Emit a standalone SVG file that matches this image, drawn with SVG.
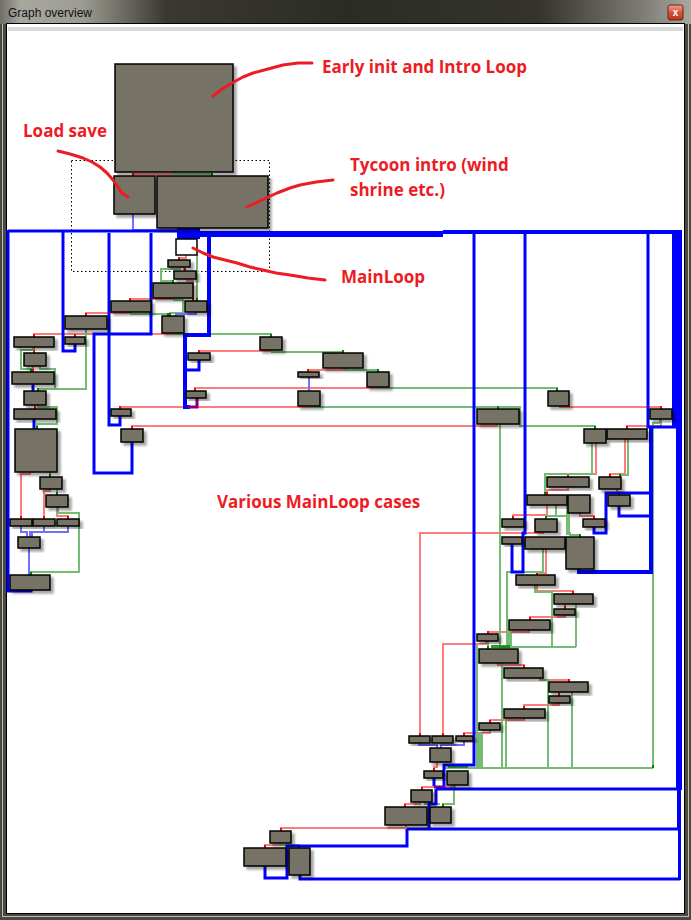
<svg xmlns="http://www.w3.org/2000/svg" width="691" height="920" viewBox="0 0 691 920">
<defs>
<linearGradient id="tb" x1="0" y1="0" x2="1" y2="0">
<stop offset="0" stop-color="#6f6e66"/><stop offset="0.03" stop-color="#a9a8a0"/><stop offset="0.12" stop-color="#9c9b92"/><stop offset="0.24" stop-color="#393931"/><stop offset="0.5" stop-color="#2c2c26"/><stop offset="0.78" stop-color="#34342d"/><stop offset="0.93" stop-color="#7d7d75"/><stop offset="1" stop-color="#a8a8a0"/>
</linearGradient>
<linearGradient id="cb" x1="0" y1="0" x2="0" y2="1"><stop offset="0" stop-color="#f0a090"/><stop offset="0.5" stop-color="#d9533c"/><stop offset="1" stop-color="#b8321e"/></linearGradient>
<filter id="sh" x="-20%" y="-20%" width="150%" height="160%"><feDropShadow dx="3" dy="3" stdDeviation="1" flood-color="#000" flood-opacity="0.35"/></filter>
<marker id="mr" viewBox="0 0 2 3" refX="1" refY="3" markerWidth="2" markerHeight="3" markerUnits="userSpaceOnUse" orient="0"><rect width="2" height="3" fill="#ff0000"/></marker>
<marker id="mg" viewBox="0 0 2 3" refX="1" refY="3" markerWidth="2" markerHeight="3" markerUnits="userSpaceOnUse" orient="0"><rect width="2" height="3" fill="#008000"/></marker>
<style>
.n{fill:#777266;stroke:#000;stroke-width:1.5;filter:url(#sh)}
.w{fill:#fff;stroke:#000;stroke-width:1.5}
.r{fill:none;stroke:#ff7c7c;stroke-width:2;marker-end:url(#mr)}
.g{fill:none;stroke:#74bc74;stroke-width:2;marker-end:url(#mg)}
.gl{fill:none;stroke:#74bc74;stroke-width:2}
.b{fill:none;stroke:#0000ff;stroke-width:3}
.bt{fill:none;stroke:#0000ff;stroke-width:4}
.lb{fill:none;stroke:#7070ff;stroke-width:2}
.p{fill:none;stroke:#800080;stroke-width:3}
.pen{fill:none;stroke:#ed1c24;stroke-width:3;stroke-linecap:round;stroke-linejoin:round}
.ann{font-family:"Open Sans","Noto Sans",sans-serif;font-weight:bold;font-size:17px;fill:#ed1c24}
</style>
</defs>
<g id="frame">
<rect x="0" y="0" width="691" height="920" fill="#4a4840"/>
<rect x="0" y="0" width="691" height="24" fill="url(#tb)"/>
<text x="8" y="17" font-family="Liberation Sans,Arial,sans-serif" font-size="12" fill="#111">Graph overview</text>
<rect x="668" y="5" width="15" height="15" rx="2" fill="url(#cb)" stroke="#6b2418"/>
<text x="675.5" y="16" text-anchor="middle" font-family="Liberation Sans,Arial,sans-serif" font-size="10" font-weight="bold" fill="#fff">x</text>
<line x1="2.5" y1="24" x2="2.5" y2="917" stroke="#bdbdb5"/>
<line x1="688.5" y1="24" x2="688.5" y2="917" stroke="#bdbdb5"/>
<line x1="2" y1="916.5" x2="689" y2="916.5" stroke="#bdbdb5"/>
<rect x="6.5" y="23.5" width="678" height="890" fill="#fff" stroke="#000"/>
<rect x="8" y="27" width="675" height="4" fill="#d8d8d8"/>
</g>
<rect x="71.5" y="160.5" width="198" height="111" fill="none" stroke="#000" stroke-dasharray="1.5,2.5"/>
<g id="connectors">
<polyline class="r" points="173,172 173,174 133,174 133,176"/>
<polyline class="r" points="186,255 186,258 179,258 179,260"/>
<polyline class="r" points="184,267 184,269 185,269 185,271"/>
<polyline class="r" points="187,279 187,281 193,281 193,301"/>
<polyline class="r" points="172,298 172,299 130,299 130,301"/>
<polyline class="r" points="130,312 130,313 86,313 86,316"/>
<polyline class="r" points="172,333 172,334 34,334 34,337"/>
<polyline class="r" points="75,334 75,337"/>
<polyline class="r" points="34,347 34,353"/>
<polyline class="r" points="33,366 33,372"/>
<polyline class="r" points="35,405 35,409"/>
<polyline class="r" points="30,472 30,474 21,474 21,519"/>
<polyline class="r" points="50,489 50,491 44,491 44,519"/>
<polyline class="r" points="57,507 57,516 68,516 68,519"/>
<polyline class="r" points="270,350 270,351 199,351 199,353"/>
<polyline class="r" points="343,368 343,370 308,370 308,372"/>
<polyline class="r" points="378,387 378,388 195,388 195,391"/>
<polyline class="r" points="308,406 308,407 120,407 120,409"/>
<polyline class="r" points="497,423 497,426 132,426 132,429"/>
<polyline class="r" points="560,406 560,407 661,407 661,409"/>
<polyline class="r" points="661,419 661,426 627,426 627,429"/>
<polyline class="r" points="596,443 596,474 568,474 568,477"/>
<polyline class="r" points="625,439 625,474 610,474 610,477"/>
<polyline class="r" points="568,487 568,490 547,490 547,495"/>
<polyline class="r" points="617,489 617,492 619,492 619,495"/>
<polyline class="r" points="547,505 547,515 513,515 513,519"/>
<polyline class="r" points="580,513 580,516 594,516 594,519"/>
<polyline class="r" points="543,532 543,533 420,533 420,736"/>
<polyline class="r" points="546,549 546,573 537,573 537,575"/>
<polyline class="r" points="537,585 537,591 573,591 573,594"/>
<polyline class="r" points="565,604 565,609"/>
<polyline class="r" points="565,615 565,617 530,617 530,620"/>
<polyline class="r" points="529,630 529,632 488,632 488,634"/>
<polyline class="r" points="486,641 486,644 443,644 443,736"/>
<polyline class="r" points="498,663 498,665 524,665 524,668"/>
<polyline class="r" points="540,678 540,680 569,680 569,682"/>
<polyline class="r" points="559,692 559,696"/>
<polyline class="r" points="559,703 559,705 524,705 524,709"/>
<polyline class="r" points="524,718 524,720 490,720 490,723"/>
<polyline class="r" points="490,730 490,733 464,733 464,736"/>
<polyline class="r" points="437,762 437,767 434,767 434,771"/>
<polyline class="r" points="455,785 455,787 422,787 422,790"/>
<polyline class="r" points="420,802 420,804 405,804 405,807"/>
<polyline class="r" points="406,825 406,828 281,828 281,831"/>
<polyline class="r" points="280,843 280,845 265,845 265,848"/>
<polyline class="g" points="174,172 174,174 212,174 212,176"/>
<polyline class="g" points="197,255 197,301"/>
<polyline class="g" points="180,267 180,269 161,269 161,281 173,281 173,283"/>
<polyline class="g" points="174,298 174,300 183,300 183,313 170,313 170,316"/>
<polyline class="g" points="131,312 131,314 168,314 168,316"/>
<polyline class="g" points="174,333 174,334 271,334 271,337"/>
<polyline class="g" points="86,329 86,389 38,389 38,391"/>
<polyline class="g" points="33,348 33,350 21,350 21,369 31,369 31,372"/>
<polyline class="gl" points="40,366 40,369 55,369 55,389"/>
<polyline class="g" points="38,405 38,407 57,407 57,424 37,424 37,429"/>
<polyline class="g" points="50,472 50,477"/>
<polyline class="g" points="57,489 57,495"/>
<polyline class="g" points="58,507 58,513 79,513 79,572 31,572 31,575"/>
<polyline class="g" points="272,350 272,352 343,352 343,353"/>
<polyline class="g" points="345,368 345,370 378,370 378,372"/>
<polyline class="g" points="380,387 380,388 557,388 557,391"/>
<polyline class="g" points="310,406 310,407 520,407 520,426 595,426 595,429"/>
<polyline class="g" points="498,407 498,409"/>
<polyline class="gl" points="500,424 500,647"/>
<polyline class="g" points="592,443 592,474 545,474 545,495"/>
<polyline class="g" points="628,439 628,475 620,475 620,477"/>
<polyline class="g" points="556,505 556,516 546,516 546,519"/>
<polyline class="gl" points="547,516 570,516"/>
<polyline class="g" points="570,532 570,535 580,535 580,537"/>
<polyline class="gl" points="543,549 543,572 507,572 507,647"/>
<polyline class="gl" points="535,585 535,592 552,592 552,647"/>
<polyline class="gl" points="576,604 576,647"/>
<polyline class="gl" points="499,647 576,647"/>
<polyline class="g" points="488,641 488,649"/>
<polyline class="gl" points="502,663 502,768"/>
<polyline class="gl" points="543,678 543,680 548,680 548,768"/>
<polyline class="gl" points="572,692 572,768"/>
<polyline class="gl" points="506,718 506,768"/>
<polyline class="gl" points="660,419 660,423 653,423 653,768"/>
<polyline class="gl" points="477,645 477,768"/>
<polyline class="gl" points="482,733 482,768"/>
<polyline class="g" points="444,768 653,768"/>
<polyline class="g" points="454,785 454,804 443,804 443,807"/>
<polyline class="gl" points="425,802 425,804 440,804"/>
<polyline class="g" points="281,843 281,845 299,845 299,848"/>
<rect x="476" y="733" width="6" height="35" fill="#74bc74"/>
<rect x="506" y="632" width="6" height="15" fill="#74bc74"/>
<rect x="566" y="505" width="4" height="30" fill="#74bc74"/>
<rect x="448" y="765" width="20" height="3" fill="#008000" fill-opacity="0.8"/>
<rect x="491" y="645" width="19" height="3" fill="#008000" fill-opacity="0.8"/>
<polyline class="lb" points="133,214 133,230 183,230"/>
<polyline class="lb" points="196,312 196,314 176,314 176,316"/>
<polyline class="lb" points="21,526 21,532 27,532 27,537"/>
<polyline class="lb" points="44,526 44,532 30,532 30,537"/>
<polyline class="lb" points="68,526 68,532 32,532 32,537"/>
<polyline class="lb" points="29,548 29,575"/>
<polyline class="lb" points="309,377 309,391"/>
<polyline class="lb" points="419,743 419,745 437,745 437,748"/>
<polyline class="lb" points="464,741 464,745 441,745 441,748"/>
<polyline class="b" points="33,384 33,391"/>
<polyline class="b" points="34,419 34,429"/>
<rect x="177" y="228" width="23" height="11" fill="#0000ff"/>
<rect x="200" y="231" width="243" height="6" fill="#0000ff"/>
<rect x="443" y="230" width="239" height="4" fill="#0000ff"/>
<line x1="8" y1="231" x2="177" y2="231" stroke="#0000ff" stroke-width="3"/>
<rect x="672" y="230" width="10" height="197" fill="#0000ff"/>
<rect x="676" y="427" width="6" height="363" fill="#0000ff"/>
<rect x="677" y="790" width="4" height="40" fill="#0000ff"/>
<rect x="678" y="829" width="3" height="51" fill="#0000ff"/>
<polyline class="b" points="8,230 8,591 31,591 31,590"/>
<polyline class="b" points="75,344 75,351 63,351 63,231"/>
<polyline class="b" points="120,416 120,425 109,425 109,233"/>
<polyline class="b" points="132,442 132,473 94,473 94,334 151,334 151,233"/>
<polyline class="bt" points="209,233 209,335 185,335 185,407 190,407"/>
<polyline class="p" points="188,407 197,407 197,398"/>
<polyline class="b" points="185,370 199,370 199,360"/>
<polyline class="b" points="474,233 474,765 444,765 444,789"/>
<polyline class="b" points="434,778 434,786"/>
<polyline class="p" points="434,787 445,787"/>
<polyline class="b" points="436,789 678,789"/>
<polyline class="b" points="436,789 436,804 429,804 429,829"/>
<polyline class="b" points="407,829 680,829"/>
<polyline class="b" points="407,829 407,846 287,846 287,878 265,878 265,866"/>
<polyline class="b" points="300,875 300,879 680,879"/>
<polyline class="b" points="525,233 525,533 523,533 523,572 512,572 512,544"/>
<polyline class="b" points="648,232 648,427 676,427"/>
<polyline class="bt" points="651,427 651,572 579,572 579,569"/>
<polyline class="b" points="594,527 594,533 606,533 606,493 650,493"/>
<polyline class="b" points="619,506 619,516 650,516"/>
</g>
<g id="nodes">
<g id="n_init"><rect class="n" x="115" y="64" width="118" height="108"/></g>
<g id="n_load"><rect class="n" x="114" y="176" width="41" height="38"/></g>
<g id="n_tycoon"><rect class="n" x="157" y="176" width="111" height="52"/></g>
<g id="n_main"><rect class="w" x="176" y="239" width="21" height="16"/></g>
<g id="a1"><rect class="n" x="168" y="260" width="22" height="7"/></g>
<g id="a2"><rect class="n" x="174" y="271" width="22" height="8"/></g>
<g id="a3"><rect class="n" x="153" y="283" width="40" height="15"/></g>
<g id="a4"><rect class="n" x="111" y="301" width="40" height="11"/></g>
<g id="a5"><rect class="n" x="185" y="301" width="22" height="11"/></g>
<g id="a6"><rect class="n" x="65" y="316" width="42" height="13"/></g>
<g id="a7"><rect class="n" x="162" y="316" width="22" height="17"/></g>
<g id="a8"><rect class="n" x="65" y="337" width="20" height="7"/></g>
<g id="a9"><rect class="n" x="14" y="337" width="40" height="10"/></g>
<g id="a10"><rect class="n" x="24" y="353" width="22" height="13"/></g>
<g id="a11"><rect class="n" x="12" y="372" width="42" height="12"/></g>
<g id="a12"><rect class="n" x="24" y="391" width="22" height="14"/></g>
<g id="a13"><rect class="n" x="14" y="409" width="42" height="10"/></g>
<g id="a14"><rect class="n" x="15" y="429" width="42" height="43"/></g>
<g id="a15"><rect class="n" x="40" y="477" width="22" height="12"/></g>
<g id="a16"><rect class="n" x="46" y="495" width="22" height="12"/></g>
<g id="a17"><rect class="n" x="10" y="519" width="22" height="7"/></g>
<g id="a18"><rect class="n" x="33" y="519" width="22" height="7"/></g>
<g id="a19"><rect class="n" x="57" y="519" width="22" height="7"/></g>
<g id="a20"><rect class="n" x="18" y="537" width="22" height="11"/></g>
<g id="a21"><rect class="n" x="10" y="575" width="40" height="15"/></g>
<g id="b1"><rect class="n" x="111" y="409" width="20" height="7"/></g>
<g id="b2"><rect class="n" x="121" y="429" width="22" height="13"/></g>
<g id="c1"><rect class="n" x="260" y="337" width="22" height="13"/></g>
<g id="c2"><rect class="n" x="188" y="353" width="22" height="7"/></g>
<g id="c3"><rect class="n" x="323" y="353" width="40" height="15"/></g>
<g id="c4"><rect class="n" x="298" y="372" width="21" height="5"/></g>
<g id="c5"><rect class="n" x="367" y="372" width="22" height="15"/></g>
<g id="c6"><rect class="n" x="186" y="391" width="20" height="7"/></g>
<g id="c7"><rect class="n" x="298" y="391" width="22" height="15"/></g>
<g id="d1"><rect class="n" x="548" y="391" width="21" height="15"/></g>
<g id="d2"><rect class="n" x="477" y="409" width="42" height="15"/></g>
<g id="d3"><rect class="n" x="650" y="409" width="22" height="10"/></g>
<g id="d4"><rect class="n" x="584" y="429" width="22" height="14"/></g>
<g id="d5"><rect class="n" x="607" y="429" width="40" height="10"/></g>
<g id="d6"><rect class="n" x="547" y="477" width="42" height="10"/></g>
<g id="d7"><rect class="n" x="599" y="477" width="22" height="12"/></g>
<g id="d8"><rect class="n" x="527" y="495" width="40" height="10"/></g>
<g id="d9"><rect class="n" x="568" y="495" width="22" height="18"/></g>
<g id="d10"><rect class="n" x="608" y="495" width="22" height="11"/></g>
<g id="d11"><rect class="n" x="502" y="519" width="22" height="8"/></g>
<g id="d12"><rect class="n" x="535" y="519" width="22" height="13"/></g>
<g id="d13"><rect class="n" x="583" y="519" width="22" height="8"/></g>
<g id="d14"><rect class="n" x="502" y="537" width="20" height="7"/></g>
<g id="d15"><rect class="n" x="525" y="537" width="40" height="12"/></g>
<g id="d16"><rect class="n" x="566" y="537" width="28" height="32"/></g>
<g id="e1"><rect class="n" x="516" y="575" width="39" height="10"/></g>
<g id="e2"><rect class="n" x="554" y="594" width="39" height="10"/></g>
<g id="e3"><rect class="n" x="554" y="609" width="21" height="6"/></g>
<g id="e4"><rect class="n" x="509" y="620" width="41" height="10"/></g>
<g id="e5"><rect class="n" x="477" y="634" width="21" height="7"/></g>
<g id="e6"><rect class="n" x="479" y="649" width="39" height="14"/></g>
<g id="e7"><rect class="n" x="504" y="668" width="39" height="10"/></g>
<g id="e8"><rect class="n" x="549" y="682" width="39" height="10"/></g>
<g id="e9"><rect class="n" x="549" y="696" width="21" height="7"/></g>
<g id="e10"><rect class="n" x="504" y="709" width="41" height="9"/></g>
<g id="e11"><rect class="n" x="479" y="723" width="21" height="7"/></g>
<g id="f1"><rect class="n" x="409" y="736" width="21" height="7"/></g>
<g id="f2"><rect class="n" x="432" y="736" width="21" height="7"/></g>
<g id="f3"><rect class="n" x="456" y="736" width="17" height="5"/></g>
<g id="f4"><rect class="n" x="430" y="748" width="21" height="14"/></g>
<g id="f5"><rect class="n" x="424" y="771" width="19" height="7"/></g>
<g id="f6"><rect class="n" x="447" y="771" width="21" height="14"/></g>
<g id="f7"><rect class="n" x="411" y="790" width="21" height="12"/></g>
<g id="f8"><rect class="n" x="385" y="807" width="42" height="18"/></g>
<g id="f9"><rect class="n" x="430" y="807" width="21" height="16"/></g>
<g id="f10"><rect class="n" x="270" y="831" width="21" height="12"/></g>
<g id="f11"><rect class="n" x="244" y="848" width="42" height="18"/></g>
<g id="f12"><rect class="n" x="289" y="848" width="21" height="27"/></g>
</g>
<g id="annotations">
<polyline class="pen" points="213,96 222,89 232,83 243,77 253,73 268,69 283,65 298,63 312,63"/>
<polyline class="pen" points="58,151 70,154 83,158 92,162 100,167 107,173 113,180 118,187 122,193 128,197"/>
<polyline class="pen" points="247,207 262,200 277,193 290,188 300,185 316,182 333,180"/>
<polyline class="pen" points="193,248 203,253 213,257 225,260 237,263 250,267 263,270 276,273 290,275 308,278 325,280"/>
<text class="ann" x="322" y="73">Early init and Intro Loop</text>
<text class="ann" x="23" y="137">Load save</text>
<text class="ann" x="350" y="171">Tycoon intro (wind</text>
<text class="ann" x="350" y="196">shrine etc.)</text>
<text class="ann" x="341" y="283">MainLoop</text>
<text class="ann" x="217" y="508">Various MainLoop cases</text>
</g>
</svg>
